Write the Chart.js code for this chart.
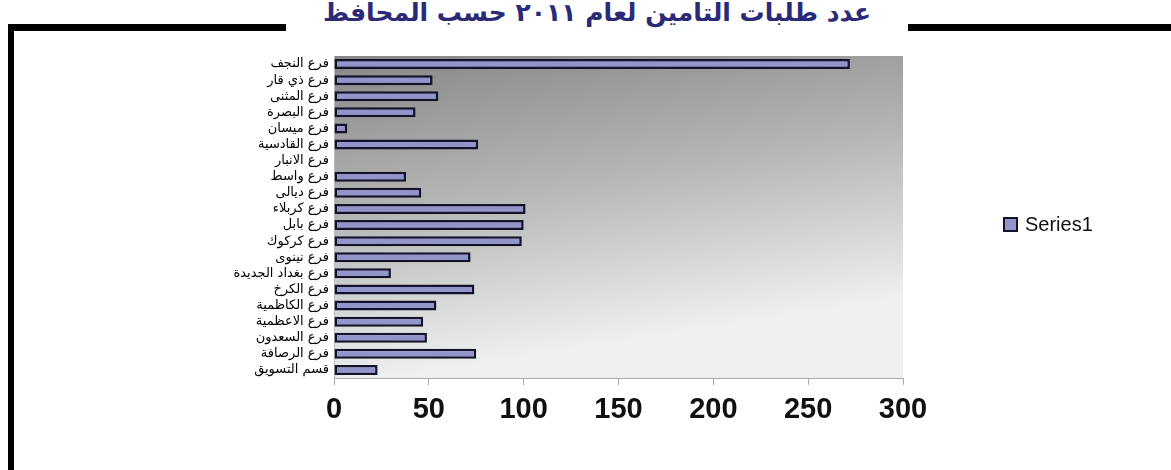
<!DOCTYPE html>
<html>
<head>
<meta charset="utf-8">
<script src="https://cdn.jsdelivr.net/npm/chart.js@4"></script>
<style>
  body { margin: 0; background: #fff; }
  #wrap { position: relative; width: 1171px; height: 470px; overflow: hidden; }
  #frame {
    position: absolute; left: 8px; top: 24px; width: 1300px; height: 600px;
    border-left: 6px solid #000; border-top: 7px solid #000;
  }
  #title {
    position: absolute; left: 286px; width: 622px; top: -7px; text-align: center;
    background: #fff; color: #2b2a76; font: bold 25px "DejaVu Sans", sans-serif;
    direction: rtl; line-height: 40px;
  }
  canvas { position: absolute; left: 0; top: 0; }
</style>
</head>
<body>
<div id="wrap">
  <div id="frame"></div>
  <div id="title">عدد طلبات التامين لعام ٢٠١١ حسب المحافظ</div>
  <canvas id="chart" width="1171" height="470"></canvas>
</div>
<script>
const branches = [
  "فرع النجف", "فرع ذي قار", "فرع المثنى", "فرع البصرة", "فرع ميسان",
  "فرع القادسية", "فرع الانبار", "فرع واسط", "فرع ديالى", "فرع كربلاء",
  "فرع بابل", "فرع كركوك", "فرع نينوى", "فرع بغداد الجديدة", "فرع الكرخ",
  "فرع الكاظمية", "فرع الاعظمية", "فرع السعدون", "فرع الرصافة", "قسم التسويق"
];
const requests = [272, 52, 55, 43, 7, 76, 0, 38, 46, 101, 100, 99, 72, 30, 74, 54, 47, 49, 75, 23];
const seriesName = "Series1";
const xTicks = [0, 50, 100, 150, 200, 250, 300];

// grey gradient behind the plot area
const plotBg = {
  id: "plotBg",
  beforeDraw(chart) {
    const { ctx, chartArea: a } = chart;
    const g = ctx.createLinearGradient(a.left, a.top, a.left + 50, a.bottom);
    g.addColorStop(0, "#878787");
    g.addColorStop(0.5, "#b6b6b6");
    g.addColorStop(1, "#efefef");
    ctx.save();
    ctx.fillStyle = g;
    ctx.fillRect(a.left, a.top, a.right - a.left, a.bottom - a.top);
    ctx.restore();
  }
};

// legend drawn at a fixed spot to the right
const sideLegend = {
  id: "sideLegend",
  afterDraw(chart) {
    const ctx = chart.ctx;
    const ds = chart.data.datasets[0];
    ctx.save();
    ctx.fillStyle = ds.backgroundColor;
    ctx.strokeStyle = ds.borderColor;
    ctx.lineWidth = 2;
    ctx.fillRect(1004, 218, 13, 13);
    ctx.strokeRect(1004, 218, 13, 13);
    ctx.fillStyle = "#111";
    ctx.font = "20px 'Liberation Sans', Arial, sans-serif";
    ctx.textBaseline = "middle";
    ctx.fillText(ds.label, 1025, 225);
    ctx.restore();
  }
};

new Chart(document.getElementById("chart"), {
  type: "bar",
  data: {
    labels: branches,
    datasets: [{
      label: seriesName,
      data: requests,
      backgroundColor: "#9494cc",
      borderColor: "#14132c",
      borderWidth: 2.5,
      borderSkipped: false,
      barPercentage: 0.62,
      categoryPercentage: 1
    }]
  },
  options: {
    indexAxis: "y",
    responsive: false,
    animation: false,
    layout: { padding: { top: 56, right: 268, bottom: 0, left: 0 } },
    plugins: { legend: { display: false }, tooltip: { enabled: false } },
    scales: {
      x: {
        min: 0, max: 300,
        afterBuildTicks(scale) { scale.ticks = xTicks.map(v => ({ value: v })); },
        afterFit(scale) { scale.height = 92; },
        grid: { drawOnChartArea: false, tickLength: 7, color: "#aaa" },
        border: { color: "#aaa" },
        ticks: {
          color: "#111", padding: 8,
          font: { family: "'Liberation Sans', Arial, sans-serif", size: 29, weight: "bold" }
        }
      },
      y: {
        afterFit(scale) { scale.width = 334; },
        grid: { drawOnChartArea: false, drawTicks: false },
        border: { color: "#bbb" },
        ticks: {
          color: "#000", padding: 5, autoSkip: false,
          font: { family: "'DejaVu Sans', sans-serif", size: 13 }
        }
      }
    }
  },
  plugins: [plotBg, sideLegend]
});
</script>
</body>
</html>
